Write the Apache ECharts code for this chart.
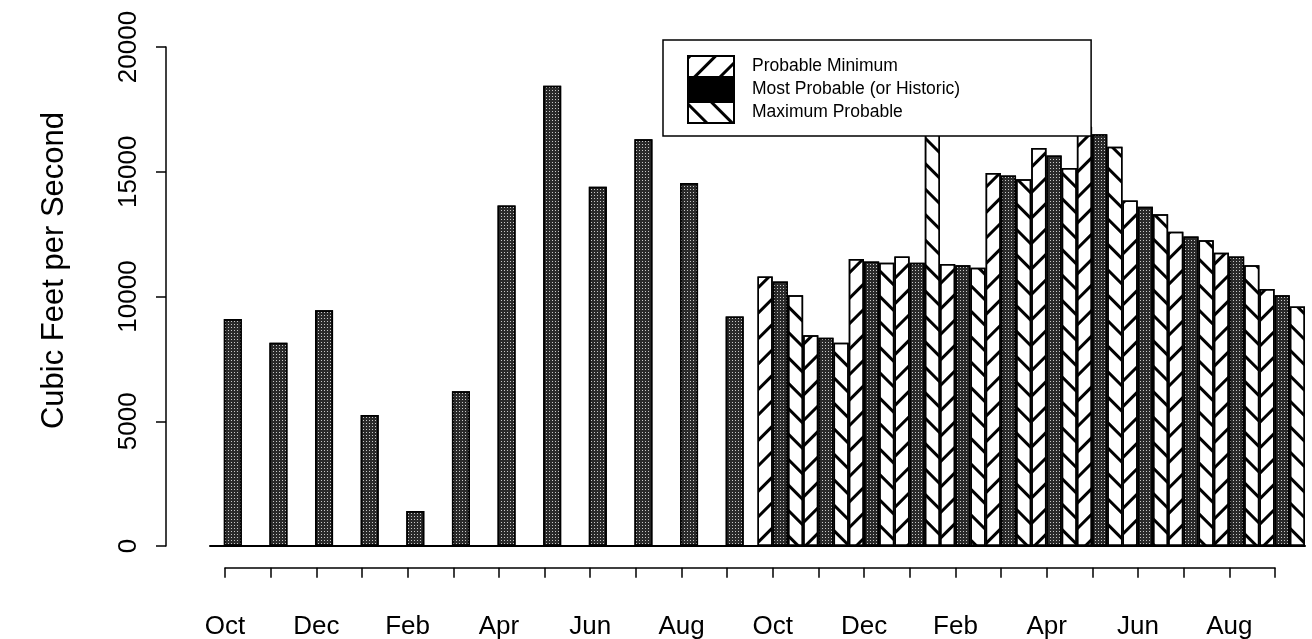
<!DOCTYPE html>
<html>
<head>
<meta charset="utf-8">
<script src="https://cdn.jsdelivr.net/npm/echarts@6/dist/echarts.min.js"></script>
<style>
  html, body { margin: 0; padding: 0; background: #fff; }
  #chart { width: 1312px; height: 639px; }
</style>
</head>
<body>
<div id="chart"></div>
<script>
// ---- data ----
const months = ['Oct','Nov','Dec','Jan','Feb','Mar','Apr','May','Jun','Jul','Aug','Sep',
                'Oct','Nov','Dec','Jan','Feb','Mar','Apr','May','Jun','Jul','Aug','Sep'];
const tickLabels = ['Oct','','Dec','','Feb','','Apr','','Jun','','Aug','',
                    'Oct','','Dec','','Feb','','Apr','','Jun','','Aug',''];
const yTicks = [0, 5000, 10000, 15000, 20000];
// historic flows (first water year)
const historic = [9100, 8150, 9450, 5250, 1400, 6200, 13650, 18450, 14400, 16300, 14550, 9200,
                  null, null, null, null, null, null, null, null, null, null, null, null];
// forecast (second water year)
const probMin  = [null, null, null, null, null, null, null, null, null, null, null, null,
                  10800, 8450, 11500, 11600, 11300, 14950, 15950, 16800, 13850, 12600, 11750, 10300];
const mostProb = [null, null, null, null, null, null, null, null, null, null, null, null,
                  10600, 8350, 11400, 11350, 11250, 14850, 15650, 16500, 13600, 12400, 11600, 10050];
const maxProb  = [null, null, null, null, null, null, null, null, null, null, null, null,
                  10050, 8150, 11350, 16800, 11150, 14700, 15150, 16000, 13300, 12250, 11250, 9600];
const seriesNames = ['Probable Minimum', 'Most Probable (or Historic)', 'Maximum Probable'];
const yTitle = 'Cubic Feet per Second';

// ---- styles ----
const FONT = '"Liberation Sans", Arial, Helvetica, sans-serif';
const stipple = { symbol: 'rect', symbolSize: 1, dashArrayX: [1, 2], dashArrayY: [1, 2], color: '#c8c8c8' };
const hatchMin = { symbol: 'rect', symbolSize: 1, dashArrayX: [1, 0], dashArrayY: [2.4, 15], rotation: -Math.PI / 4, color: '#000' };
const hatchMax = { symbol: 'rect', symbolSize: 1, dashArrayX: [1, 0], dashArrayY: [2.4, 15], rotation: Math.PI / 4, color: '#000' };
const darkStyle = { color: '#2a2a2a', borderColor: '#000', borderWidth: 1.5, decal: stipple };

const chart = echarts.init(document.getElementById('chart'), null, { renderer: 'canvas' });
chart.setOption({
  animation: false,
  backgroundColor: '#fff',
  textStyle: { fontFamily: FONT },
  grid: [
    { left: 210, right: 7, top: 47, bottom: 93 },
    { left: 225, right: 37, top: 567.5, height: 1 }
  ],
  legend: {
    orient: 'vertical',
    left: 663, top: 40,
    padding: [15, 131, 12, 24],
    itemWidth: 46, itemHeight: 21, itemGap: 0,
    icon: 'rect',
    backgroundColor: '#fff',
    borderColor: '#000', borderWidth: 1.5, borderRadius: 0,
    textStyle: { fontFamily: FONT, fontSize: 17.5, lineHeight: 20, color: '#000', padding: [0, 0, 0, 13] },
    data: [
      { name: seriesNames[0] },
      { name: seriesNames[1], itemStyle: { color: '#000', borderColor: '#000', decal: { symbol: 'rect', color: '#000' } } },
      { name: seriesNames[2] }
    ],
    selectedMode: false
  },
  xAxis: [
    { type: 'category', gridIndex: 0, data: months, position: 'bottom',
      axisLine: { show: true, lineStyle: { color: '#000', width: 2 } },
      axisTick: { show: false }, axisLabel: { show: false }, splitLine: { show: false } },
    { type: 'category', gridIndex: 0, data: months, show: false },
    { type: 'category', gridIndex: 1, data: tickLabels, boundaryGap: false, position: 'bottom',
      axisLine: { show: true, lineStyle: { color: '#000', width: 1.5 } },
      axisTick: { show: true, length: 10, interval: 0, lineStyle: { color: '#000', width: 1.5 } },
      axisLabel: { show: true, interval: 0, margin: 46, fontSize: 26, color: '#000', fontFamily: FONT },
      splitLine: { show: false } }
  ],
  yAxis: [
    { type: 'value', gridIndex: 0, min: yTicks[0], max: yTicks[yTicks.length - 1], interval: 5000,
      offset: 44,
      name: yTitle, nameLocation: 'middle', nameGap: 96, nameRotate: 90,
      nameTextStyle: { fontSize: 31, color: '#000', fontFamily: FONT, padding: [0, 0, 0, 52] },
      axisLine: { show: true, lineStyle: { color: '#000', width: 1.5 } },
      axisTick: { show: true, length: 10, lineStyle: { color: '#000', width: 1.5 } },
      axisLabel: { show: true, rotate: 90, margin: 24, fontSize: 26, color: '#000', fontFamily: FONT,
                   formatter: function (v) { return String(v); } },
      splitLine: { show: false } },
    { type: 'value', gridIndex: 1, show: false, min: 0, max: 1 }
  ],
  series: [
    { name: seriesNames[1], type: 'bar', xAxisIndex: 1, yAxisIndex: 0, data: historic,
      barWidth: 18, itemStyle: darkStyle },
    { name: seriesNames[0], type: 'bar', xAxisIndex: 0, yAxisIndex: 0, data: probMin,
      barGap: '0%', barCategoryGap: '0%',
      itemStyle: { color: '#fff', borderColor: '#000', borderWidth: 1.5, decal: hatchMin } },
    { name: seriesNames[1], type: 'bar', xAxisIndex: 0, yAxisIndex: 0, data: mostProb,
      barGap: '0%', barCategoryGap: '0%', itemStyle: darkStyle },
    { name: seriesNames[2], type: 'bar', xAxisIndex: 0, yAxisIndex: 0, data: maxProb,
      barGap: '0%', barCategoryGap: '0%',
      itemStyle: { color: '#fff', borderColor: '#000', borderWidth: 1.5, decal: hatchMax } }
  ]
});
</script>
</body>
</html>
